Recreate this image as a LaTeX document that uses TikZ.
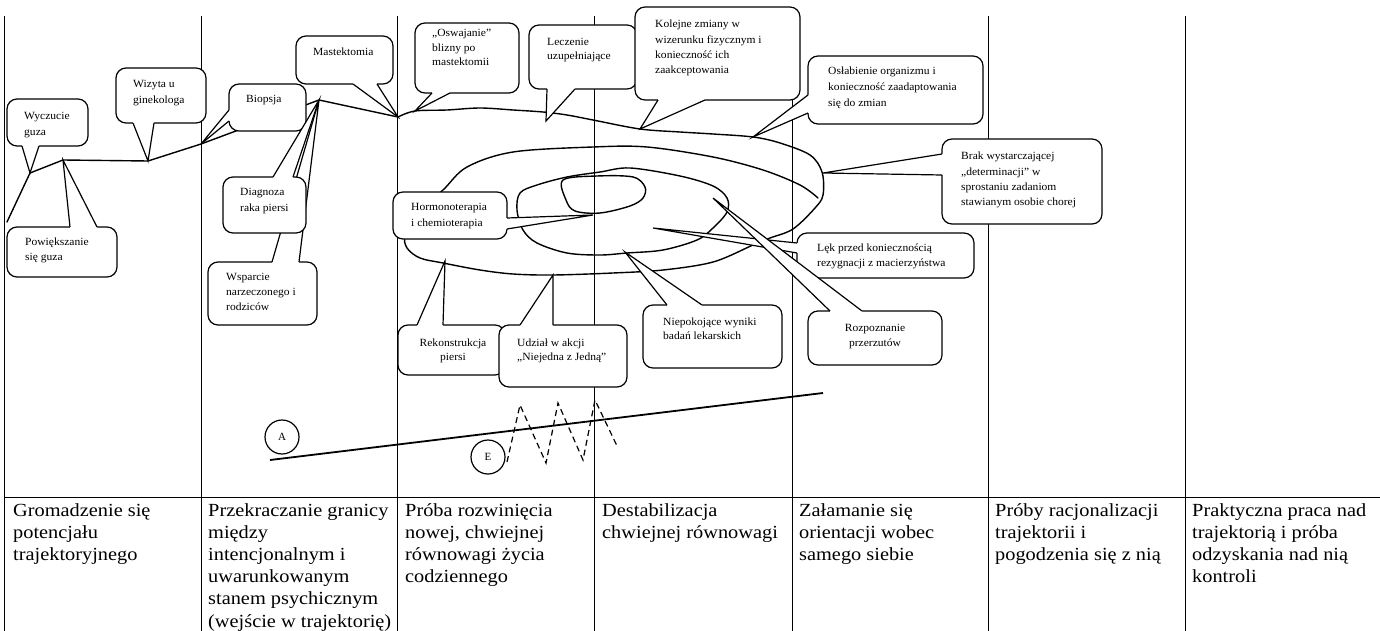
\documentclass[tikz,border=0pt]{standalone}
\usepackage{fontspec}
\setmainfont{Liberation Serif}
\newfontfamily\cfont[FakeStretch=1.05]{Liberation Serif}
\newfontfamily\tfont[FakeStretch=1.10]{Liberation Serif}
\usetikzlibrary{calc}
\newcommand\mlL[1]{\begin{tabular}[t]{@{}l@{}}#1\end{tabular}}
\newcommand\mlC[1]{\begin{tabular}[t]{@{}c@{}}#1\end{tabular}}
\tikzset{
  gridline/.style={line width=0.9pt},
  traj/.style={line width=1.4pt, line join=round, line cap=round},
  cbox/.style={draw, fill=white, line width=1.2pt, rounded corners=10pt, inner sep=0pt, outer sep=0pt, anchor=north west},
  ctext/.style={font=\cfont\fontsize{11}{15.3}\selectfont, inner sep=0pt, anchor=base west},
  ctextc/.style={font=\cfont\fontsize{11}{15.3}\selectfont, inner sep=0pt, anchor=base},
  ttext/.style={font=\tfont\fontsize{18.5}{22.2}\selectfont, inner sep=0pt, anchor=base west},
  cline/.style={line width=1.2pt, line join=miter},
  letter/.style={circle, draw, line width=1.2pt, minimum size=34pt, inner sep=0pt, font=\fontsize{11}{13}\selectfont},
  zig/.style={line width=1.2pt, dash pattern=on 6pt off 4pt},
}
\newcommand\cbx[5]{\node[cbox, minimum width={#4-#2}, minimum height={#5-#3}] (#1) at (#2,#3) {};}
\newcommand\tailS[4]{%
  \fill[white] ($(#2,0 |- #1.south)+(0,-2.5)$) -- (#2,0 |- #1.south) -- (#4) -- (#3,0 |- #1.south) -- ($(#3,0 |- #1.south)+(0,-2.5)$) -- cycle;
  \draw[cline] (#2,0 |- #1.south) -- (#4) -- (#3,0 |- #1.south);}
\newcommand\tailN[4]{%
  \fill[white] ($(#2,0 |- #1.north)+(0,2.5)$) -- (#2,0 |- #1.north) -- (#4) -- (#3,0 |- #1.north) -- ($(#3,0 |- #1.north)+(0,2.5)$) -- cycle;
  \draw[cline] (#2,0 |- #1.north) -- (#4) -- (#3,0 |- #1.north);}
\newcommand\tailW[4]{%
  \fill[white] ($(#1.west |- 0,#2)+(2.5,0)$) -- (#1.west |- 0,#2) -- (#4) -- (#1.west |- 0,#3) -- ($(#1.west |- 0,#3)+(2.5,0)$) -- cycle;
  \draw[cline] (#1.west |- 0,#2) -- (#4) -- (#1.west |- 0,#3);}
\newcommand\tailE[4]{%
  \fill[white] ($(#1.east |- 0,#2)+(-2.5,0)$) -- (#1.east |- 0,#2) -- (#4) -- (#1.east |- 0,#3) -- ($(#1.east |- 0,#3)+(-2.5,0)$) -- cycle;
  \draw[cline] (#1.east |- 0,#2) -- (#4) -- (#1.east |- 0,#3);}

\begin{document}
\begin{tikzpicture}[x=1pt,y=-1pt]
\useasboundingbox (0,0) rectangle (1380,631);
% table grid
\foreach \cx in {4,201,397,594,792,988,1185} {\draw[gridline] (\cx,16) -- (\cx,631);}
\draw[gridline] (4,497) -- (1380,497);
% bottom row texts
\node[ttext] (c1) at (13,516) {\mlL{Gromadzenie się\\potencjału\\trajektoryjnego}};
\node[ttext] (c2) at (208,516) {\mlL{Przekraczanie granicy\\między\\intencjonalnym i\\uwarunkowanym\\stanem psychicznym\\(wejście w trajektorię)}};
\node[ttext] (c3) at (405,516) {\mlL{Próba rozwinięcia\\nowej, chwiejnej\\równowagi życia\\codziennego}};
\node[ttext] (c4) at (602,516) {\mlL{Destabilizacja\\chwiejnej równowagi}};
\node[ttext] (c5) at (799,516) {\mlL{Załamanie się\\orientacji wobec\\samego siebie}};
\node[ttext] (c6) at (995,516) {\mlL{Próby racjonalizacji\\trajektorii i\\pogodzenia się z nią}};
\node[ttext] (c7) at (1192,516) {\mlL{Praktyczna praca nad\\trajektorią i próba\\odzyskania nad nią\\kontroli}};

% trajectory points
\coordinate (p0) at (7,222);
\coordinate (p1) at (30,173);
\coordinate (p2) at (63,160);
\coordinate (p3) at (148,161);
\coordinate (p4) at (201,144);
\coordinate (p5) at (319,100);
\coordinate (p6) at (398,117);
\coordinate (t-osw) at (415,111);
\coordinate (t-lecz) at (546,121);
\coordinate (t-kol) at (640,129);
\coordinate (t-osl) at (753,137);
\coordinate (t-brak) at (823,173);
\coordinate (t-horm) at (593,215);
\coordinate (t-lek) at (653,228);
\coordinate (t-roz) at (713,198);
\coordinate (t-rek) at (445,261);
\coordinate (t-udz) at (553,275);
\coordinate (t-niep) at (625,252);

\draw[traj] (p0) -- (p1) -- (p2) -- (p3) -- (p4) -- (p5) -- (p6);
\draw[traj] plot[smooth, tension=0.55] coordinates {(398,117) (415,111) (447,110) (480,108) (513,110) (543,112) (567,115) (593,120) (640,129) (680,132) (713,134) (753,137) (780,143) (810,155) (822,172) (823,195) (815,208) (793,229) (770,238) (753,245) (713,262) (663,270) (613,273) (553,275) (513,274) (480,270) (443,263) (420,258) (407,248) (405,235) (415,215) (443,190) (467,167) (513,152) (593,147) (647,147) (713,157) (763,170) (800,185) (818,198)};
\draw[traj] plot[smooth cycle, tension=0.55] coordinates {(520,193) (537,185) (567,177) (600,172) (630,168) (680,176) (713,186) (727,198) (727,212) (713,228) (697,240) (663,250) (627,253) (600,255) (567,253) (537,243) (523,230) (517,210)};
\draw[traj] plot[smooth cycle, tension=0.55] coordinates {(563,180) (597,176) (633,177) (645,187) (643,198) (630,206) (600,213) (575,211) (566,200)};

% bottom A / E
\coordinate (al) at (270,460);
\coordinate (ar) at (823,393);
\draw[line width=1.8pt] (al) -- (ar);
\node[letter] (A) at (282,437) {A};
\node[letter] (E) at (488,457) {E};
\coordinate (z0) at (507,462);
\coordinate (z1) at (520,405);
\coordinate (z2) at (546,463);
\coordinate (z3) at (558,403);
\coordinate (z4) at (583,460);
\coordinate (z5) at (595,400);
\coordinate (z6) at (618,448);
\draw[zig] (z0) -- (z1) -- (z2) -- (z3) -- (z4) -- (z5) -- (z6);

% callouts
\cbx{wycz}{7}{99}{88}{146}
\tailS{wycz}{22}{39}{p1}
\node[ctext] (wycz-t) at (24,120) {\mlL{Wyczucie\\guza}};

\cbx{pow}{7}{227}{117}{277}
\tailN{pow}{70}{97}{p2}
\node[ctext] (pow-t) at (25,245) {\mlL{Powiększanie\\się guza}};

\cbx{wiz}{116}{68}{206}{123}
\tailS{wiz}{133}{154}{p3}
\node[ctext] (wiz-t) at (133,88) {\mlL{Wizyta u\\ginekologa}};

\cbx{bio}{229}{84}{306}{131}
\tailW{bio}{110}{121}{p4}
\node[ctext] (bio-t) at (246,103) {Biopsja};

\cbx{mast}{296}{36}{393}{84}
\tailS{mast}{353}{377}{p6}
\node[ctext] (mast-t) at (313,56) {Mastektomia};

\cbx{wsp}{208}{262}{317}{325}
\tailN{wsp}{272}{299}{p5}
\node[ctext] (wsp-t) at (226,280) {\mlL{Wsparcie\\narzeczonego i\\rodziców}};

\cbx{diag}{223}{177}{306}{233}
\tailN{diag}{273}{293}{p5}
\node[ctext] (diag-t) at (240,196) {\mlL{Diagnoza\\raka piersi}};

\cbx{osw}{415}{23}{519}{93}
\tailS{osw}{432}{450}{t-osw}
\node[ctext, font=\cfont\fontsize{11}{14.5}\selectfont] (osw-t) at (432,37) {\mlL{„Oswajanie”\\blizny po\\mastektomii}};

\cbx{lecz}{529}{25}{637}{89}
\tailS{lecz}{547}{575}{t-lecz}
\node[ctext, font=\cfont\fontsize{11}{13.5}\selectfont] (lecz-t) at (547,46) {\mlL{Leczenie\\uzupełniające}};

\cbx{kol}{635}{7}{800}{100}
\tailS{kol}{658}{705}{t-kol}
\node[ctext] (kol-t) at (655,28) {\mlL{Kolejne zmiany w\\wizerunku fizycznym i\\konieczność ich\\zaakceptowania}};

\cbx{osl}{808}{56}{983}{124}
\tailW{osl}{95}{113}{t-osl}
\node[ctext, font=\cfont\fontsize{11}{16}\selectfont] (osl-t) at (828,75) {\mlL{Osłabienie organizmu i\\konieczność zaadaptowania\\się do zmian}};

\cbx{brak}{942}{139}{1102}{224}
\tailW{brak}{154}{175}{t-brak}
\node[ctext] (brak-t) at (961,160) {\mlL{Brak wystarczającej\\„determinacji” w\\sprostaniu zadaniom\\stawianym osobie chorej}};

\cbx{horm}{393}{192}{507}{239}
\tailE{horm}{218}{229}{t-horm}
\node[ctext, font=\cfont\fontsize{11}{16}\selectfont] (horm-t) at (411,210) {\mlL{Hormonoterapia\\i chemioterapia}};

\cbx{lek}{797}{233}{974}{278}
\tailW{lek}{243}{253}{t-lek}
\node[ctext] (lek-t) at (817,251) {\mlL{Lęk przed koniecznością\\rezygnacji z macierzyństwa}};

\cbx{roz}{808}{311}{942}{365}
\tailN{roz}{830}{862}{t-roz}
\node[ctextc] (roz-t) at (875,331) {\mlC{Rozpoznanie\\przerzutów}};

\cbx{rek}{398}{325}{505}{375}
\tailN{rek}{417}{443}{t-rek}
\node[ctextc, font=\cfont\fontsize{11}{14.5}\selectfont] (rek-t) at (453,346) {\mlC{Rekonstrukcja\\piersi}};

\cbx{udz}{499}{325}{627}{387}
\tailN{udz}{520}{553}{t-udz}
\node[ctext, font=\cfont\fontsize{11}{14.5}\selectfont] (udz-t) at (517,346) {\mlL{Udział w akcji\\„Niejedna z Jedną”}};

\cbx{niep}{643}{305}{782}{368}
\tailN{niep}{667}{702}{t-niep}
\node[ctext, font=\cfont\fontsize{11}{14.5}\selectfont] (niep-t) at (663,325) {\mlL{Niepokojące wyniki\\badań lekarskich}};
\end{tikzpicture}
\end{document}
